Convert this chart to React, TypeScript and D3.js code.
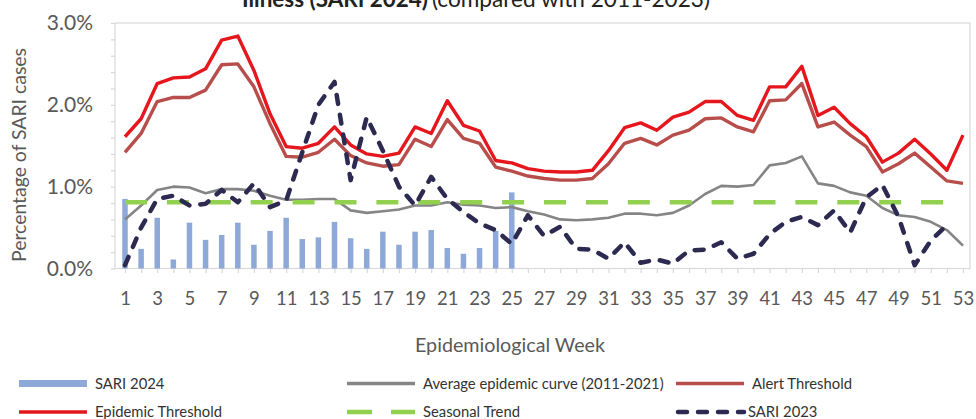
import React, { useRef, useEffect } from 'react';
import * as d3 from 'd3';

// epidemiological weeks (categories)
const weeks = [
  1, 2, 3, 4, 5, 6, 7, 8, 9, 10, 11, 12, 13, 14, 15, 16, 17, 18, 19, 20,
  21, 22, 23, 24, 25, 26, 27, 28, 29, 30, 31, 32, 33, 34, 35, 36, 37, 38, 39, 40,
  41, 42, 43, 44, 45, 46, 47, 48, 49, 50, 51, 52, 53,
];
const xTickLabels = [1, 3, 5, 7, 9, 11, 13, 15, 17, 19, 21, 23, 25, 27, 29, 31, 33, 35, 37, 39, 41, 43, 45, 47, 49, 51, 53];
const yTickLabels = [0, 1, 2, 3];

// % of SARI cases
const sari2024 = [
  0.85, 0.24, 0.62, 0.11, 0.56, 0.35, 0.41, 0.56, 0.29, 0.46, 0.62, 0.36, 0.38,
  0.57, 0.37, 0.24, 0.45, 0.29, 0.45, 0.47, 0.25, 0.18, 0.25, 0.46, 0.93,
];
const averageCurve = [
  0.60, 0.77, 0.96, 1.00, 0.99, 0.92, 0.97, 0.97, 0.95, 0.89, 0.84, 0.84, 0.85,
  0.85, 0.71, 0.68, 0.70, 0.72, 0.77, 0.77, 0.81, 0.78, 0.77, 0.74, 0.75, 0.70,
  0.66, 0.60, 0.59, 0.60, 0.62, 0.67, 0.67, 0.65, 0.68, 0.77, 0.91, 1.01, 1.00,
  1.02, 1.26, 1.29, 1.37, 1.04, 1.01, 0.93, 0.89, 0.74, 0.65, 0.63, 0.57, 0.47, 0.28,
];
const alertThreshold = [
  1.42, 1.65, 2.04, 2.09, 2.09, 2.18, 2.49, 2.50, 2.22, 1.77, 1.37, 1.36, 1.42,
  1.58, 1.38, 1.29, 1.25, 1.27, 1.58, 1.49, 1.82, 1.59, 1.53, 1.24, 1.19, 1.13,
  1.10, 1.08, 1.08, 1.10, 1.28, 1.53, 1.59, 1.51, 1.63, 1.69, 1.83, 1.84, 1.73,
  1.67, 2.05, 2.06, 2.26, 1.73, 1.79, 1.63, 1.49, 1.18, 1.28, 1.41, 1.24, 1.07, 1.04,
];
const epidemicThreshold = [
  1.61, 1.83, 2.26, 2.33, 2.34, 2.44, 2.79, 2.84, 2.42, 1.89, 1.49, 1.47, 1.53,
  1.73, 1.51, 1.40, 1.37, 1.41, 1.73, 1.65, 2.05, 1.75, 1.68, 1.32, 1.29, 1.22,
  1.19, 1.18, 1.18, 1.20, 1.44, 1.72, 1.78, 1.69, 1.85, 1.91, 2.04, 2.04, 1.87,
  1.81, 2.22, 2.22, 2.47, 1.87, 1.97, 1.77, 1.61, 1.30, 1.41, 1.58, 1.40, 1.20, 1.63,
];
const seasonalTrend = [
  0.81, 0.81, 0.81, 0.81, 0.81, 0.81, 0.81, 0.81, 0.81, 0.81, 0.81, 0.81, 0.81,
  0.81, 0.81, 0.81, 0.81, 0.81, 0.81, 0.81, 0.81, 0.81, 0.81, 0.81, 0.81, 0.81,
  0.81, 0.81, 0.81, 0.81, 0.81, 0.81, 0.81, 0.81, 0.81, 0.81, 0.81, 0.81, 0.81,
  0.81, 0.81, 0.81, 0.81, 0.81, 0.81, 0.81, 0.81, 0.81, 0.81, 0.81, 0.81, 0.81, 0.81,
];
const sari2023 = [
  0.04, 0.50, 0.85, 0.89, 0.77, 0.79, 0.96, 0.81, 1.04, 0.75, 0.83, 1.42, 2.00,
  2.28, 1.08, 1.85, 1.44, 1.00, 0.77, 1.12, 0.85, 0.69, 0.55, 0.47, 0.30, 0.65,
  0.40, 0.51, 0.24, 0.23, 0.12, 0.32, 0.07, 0.11, 0.06, 0.22, 0.23, 0.32, 0.12,
  0.18, 0.42, 0.57, 0.63, 0.53, 0.71, 0.44, 0.87, 1.02, 0.63, 0.04, 0.34, 0.53,
];

const FONT = 'Lato, "Open Sans", sans-serif';
const C = {
  bar: '#8EA9D8',
  avg: '#858585',
  alert: '#B84E4B',
  epi: '#E5161C',
  trend: '#92D050',
  s23: '#2C2A50',
  axis: '#D9D9D9',
  text: '#595959',
};

function drawChart(svgEl: SVGSVGElement) {
  const svg = d3.select(svgEl);
  svg.selectAll('*').remove();

  const x = d3.scalePoint<number>().domain(weeks).range([125, 963]);
  const y = d3.scaleLinear().domain([0, 3]).range([268.5, 23]);

  // title (cut off at the top in the original)
  svg.append('text')
    .attr('x', 242).attr('y', 6.5)
    .attr('font-family', FONT).attr('font-size', 23).attr('font-weight', 'bold')
    .attr('fill', '#222')
    .attr('textLength', 186).attr('lengthAdjust', 'spacingAndGlyphs')
    .text('Illness (SARI 2024)');
  svg.append('text')
    .attr('x', 432).attr('y', 6.5)
    .attr('font-family', FONT).attr('font-size', 23)
    .attr('fill', '#222')
    .attr('textLength', 278).attr('lengthAdjust', 'spacingAndGlyphs')
    .text('(compared with 2011-2023)');

  // plot frame
  svg.append('rect')
    .attr('x', 115).attr('y', 23).attr('width', 855).attr('height', 245.5)
    .attr('fill', 'none').attr('stroke', C.axis).attr('stroke-width', 1.2);

  // y axis
  const yAxis = d3.axisLeft(y)
    .tickValues(d3.range(0, 3.001, 0.2))
    .tickSize(4)
    .tickSizeOuter(0)
    .tickPadding(18)
    .tickFormat((d) => (yTickLabels.some((t) => Math.abs(t - +d) < 1e-6) ? `${(+d).toFixed(1)}%` : ''));
  const gy = svg.append('g').attr('transform', 'translate(115,0)').call(yAxis);
  gy.select('.domain').remove();
  gy.selectAll('line').attr('stroke', C.axis).attr('stroke-width', 1.2);
  gy.selectAll('text')
    .attr('font-family', FONT).attr('font-size', 21).attr('fill', C.text);

  // x axis
  const xAxis = d3.axisBottom(x)
    .tickSize(4)
    .tickSizeOuter(0)
    .tickPadding(19)
    .tickFormat((d) => (xTickLabels.includes(+d) ? String(d) : ''));
  const gx = svg.append('g').attr('transform', 'translate(0,269)').call(xAxis);
  gx.select('.domain').remove();
  gx.selectAll('line').attr('stroke', C.axis).attr('stroke-width', 1.2);
  gx.selectAll('text')
    .attr('font-family', FONT).attr('font-size', 18.5).attr('fill', C.text);

  // axis titles
  svg.append('text')
    .attr('transform', 'translate(26,155) rotate(-90)')
    .attr('text-anchor', 'middle')
    .attr('font-family', FONT).attr('font-size', 19).attr('fill', C.text)
    .attr('textLength', 214).attr('lengthAdjust', 'spacingAndGlyphs')
    .text('Percentage of SARI cases');
  svg.append('text')
    .attr('x', 510).attr('y', 352)
    .attr('text-anchor', 'middle')
    .attr('font-family', FONT).attr('font-size', 19).attr('fill', C.text)
    .attr('textLength', 190).attr('lengthAdjust', 'spacingAndGlyphs')
    .text('Epidemiological Week');

  // bars: SARI 2024
  const barW = 5.5;
  svg.append('g')
    .selectAll('rect')
    .data(sari2024)
    .join('rect')
    .attr('x', (d, i) => (x(weeks[i]) as number) - barW / 2)
    .attr('y', (d) => y(d))
    .attr('width', barW)
    .attr('height', (d) => y(0) - y(d))
    .attr('fill', C.bar);

  const line = d3.line<number>()
    .x((d, i) => x(weeks[i]) as number)
    .y((d) => y(d));

  const addLine = (data: number[], color: string, w: number, dash?: string, cap = 'butt') => {
    svg.append('path')
      .datum(data)
      .attr('d', line)
      .attr('fill', 'none')
      .attr('stroke', color)
      .attr('stroke-width', w)
      .attr('stroke-linejoin', 'round')
      .attr('stroke-linecap', cap)
      .attr('stroke-dasharray', dash ?? null);
  };

  addLine(averageCurve, C.avg, 2.6);
  addLine(alertThreshold, C.alert, 3.4);
  addLine(epidemicThreshold, C.epi, 3.4);
  addLine(seasonalTrend, C.trend, 4.5, '22,19.9');
  addLine(sari2023, C.s23, 4.5, '9,11', 'round');

  // legend
  const legend = [
    { label: 'SARI 2024', kind: 'bar', color: C.bar, x: 19, y: 383.5 },
    { label: 'Average epidemic curve (2011-2021)', kind: 'line', color: C.avg, x: 347, y: 383.5 },
    { label: 'Alert Threshold', kind: 'line', color: C.alert, x: 676, y: 383.5 },
    { label: 'Epidemic Threshold', kind: 'line', color: C.epi, x: 19, y: 412 },
    { label: 'Seasonal Trend', kind: 'trend', color: C.trend, x: 347, y: 412 },
    { label: 'SARI 2023', kind: 's23', color: C.s23, x: 676, y: 412 },
  ];
  const lg = svg.append('g').selectAll('g').data(legend).join('g')
    .attr('transform', (d) => `translate(${d.x},${d.y})`);
  lg.each(function (d) {
    const g = d3.select(this);
    if (d.kind === 'bar') {
      g.append('rect').attr('x', 0).attr('y', -3.5).attr('width', 68).attr('height', 7).attr('fill', d.color);
    } else {
      const ln = g.append('line')
        .attr('x1', d.kind === 's23' ? 2 : 0).attr('x2', 68).attr('y1', 0).attr('y2', 0)
        .attr('stroke', d.color);
      if (d.kind === 'line') ln.attr('stroke-width', 3.6);
      if (d.kind === 'trend') ln.attr('stroke-width', 4.5).attr('stroke-dasharray', '25,19');
      if (d.kind === 's23') ln.attr('stroke-width', 4.5).attr('stroke-dasharray', '9,11').attr('stroke-linecap', 'round');
    }
    g.append('text')
      .attr('x', d.kind === 's23' ? 72 : 76).attr('y', 0).attr('dy', '0.35em')
      .attr('font-family', FONT).attr('font-size', 14.8).attr('fill', '#333')
      .text(d.label);
  });

  return svg.node();
}

export default function App() {
  const ref = useRef<SVGSVGElement>(null);

  useEffect(() => {
    if (ref.current) {
      drawChart(ref.current);
    }
  }, []);

  return (
    <svg
      ref={ref}
      width={976}
      height={419}
      style={{ position: 'absolute', left: 0, top: 0, background: '#fff' }}
    />
  );
}
